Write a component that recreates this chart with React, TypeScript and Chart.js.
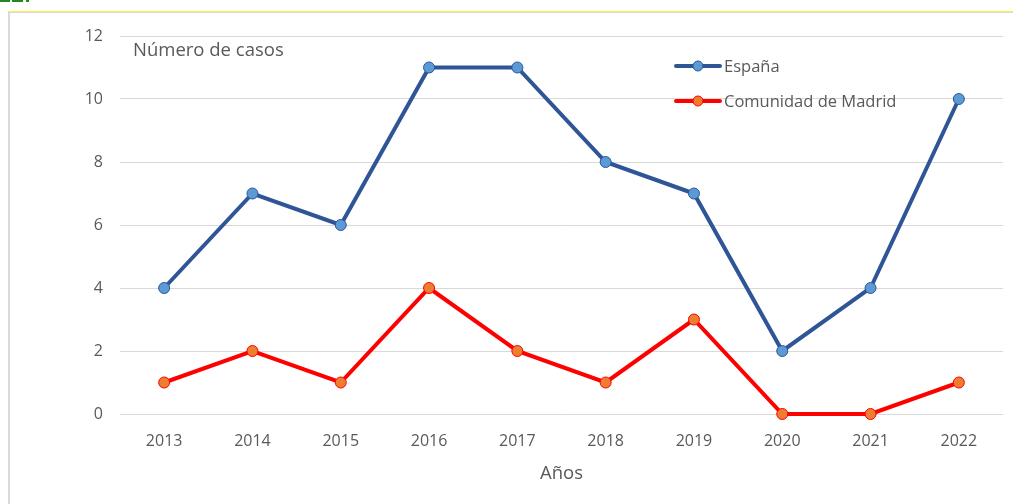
import React, { useEffect, useRef } from "react";
import { Chart, registerables } from "chart.js";

Chart.register(...registerables);

const years = ["2013", "2014", "2015", "2016", "2017", "2018", "2019", "2020", "2021", "2022"];
const espana = [4, 7, 6, 11, 11, 8, 7, 2, 4, 10];
const madrid = [1, 2, 1, 4, 2, 1, 3, 0, 0, 1];
const seriesNames = ["España", "Comunidad de Madrid"];
const yTitle = "Número de casos";
const xTitle = "Años";

const FONT = "'Open Sans', 'Noto Sans', sans-serif";
const TEXT = "#595959";

const framePlugin = {
  id: "frame",
  beforeDraw(chart: any) {
    const ctx = chart.ctx;
    ctx.save();
    ctx.fillStyle = "#ffffff";
    ctx.fillRect(0, 0, chart.width, chart.height);
    ctx.fillStyle = "#1e8a1e";
    ctx.fillRect(0, 0, 10, 2);
    ctx.fillRect(12, 0, 11, 2);
    ctx.fillRect(26, 0, 3, 2);
    ctx.fillStyle = "#f5f542";
    ctx.fillRect(8, 11, chart.width - 8, 1);
    ctx.fillStyle = "#d9d9d9";
    ctx.fillRect(8, 12, chart.width - 8, 1);
    ctx.fillRect(8, 12, 2, chart.height - 12);
    ctx.restore();
  },
  afterDraw(chart: any) {
    const ctx = chart.ctx;
    const area = chart.chartArea;
    ctx.save();
    ctx.fillStyle = TEXT;
    ctx.font = `18.5px ${FONT}`;
    ctx.textBaseline = "middle";
    ctx.textAlign = "left";
    ctx.fillText(yTitle, area.left + 13, 51);
    const rows = [66, 101];
    chart.data.datasets.forEach((ds: any, i: number) => {
      const y = rows[i];
      const x0 = 676;
      const x1 = 720;
      ctx.strokeStyle = ds.borderColor;
      ctx.lineWidth = 4;
      ctx.lineCap = "round";
      ctx.beginPath();
      ctx.moveTo(x0, y);
      ctx.lineTo(x1, y);
      ctx.stroke();
      ctx.beginPath();
      ctx.arc((x0 + x1) / 2, y, 5, 0, Math.PI * 2);
      ctx.fillStyle = ds.pointBackgroundColor;
      ctx.fill();
      ctx.lineWidth = 1;
      ctx.strokeStyle = ds.pointBorderColor;
      ctx.stroke();
      ctx.fillStyle = TEXT;
      ctx.font = `16.5px ${FONT}`;
      ctx.fillText(seriesNames[i], 724, y + 1);
    });
    ctx.restore();
  },
};

export default function App() {
  const ref = useRef<HTMLCanvasElement>(null);
  useEffect(() => {
    const chart = new Chart(ref.current as HTMLCanvasElement, {
      type: "line",
      data: {
        labels: years,
        datasets: [
          {
            label: seriesNames[0],
            data: espana,
            borderColor: "#2F5597",
            borderWidth: 4,
            pointBackgroundColor: "#5B9BD5",
            pointBorderColor: "#2F5597",
            pointBorderWidth: 1,
            pointRadius: 5.5,
            tension: 0,
            clip: false,
          },
          {
            label: seriesNames[1],
            data: madrid,
            borderColor: "#FF0000",
            borderWidth: 4,
            pointBackgroundColor: "#ED7D31",
            pointBorderColor: "#FF0000",
            pointBorderWidth: 1,
            pointRadius: 5.5,
            tension: 0,
            clip: false,
          },
        ],
      },
      options: {
        animation: false,
        responsive: false,
        maintainAspectRatio: false,
        layout: { padding: { left: 0, right: 10, top: 36, bottom: 0 } },
        plugins: { legend: { display: false }, tooltip: { enabled: false } },
        scales: {
          x: {
            offset: true,
            grid: { display: false, drawTicks: false },
            border: { display: false },
            ticks: { color: TEXT, font: { family: FONT, size: 16 }, padding: 18, maxRotation: 0 },
            title: { display: true, text: xTitle, color: TEXT, font: { family: FONT, size: 18.5 }, padding: { top: 0, bottom: 19 } },
            afterFit: (s: any) => { s.height = 90; },
          },
          y: {
            min: 0,
            max: 12,
            ticks: { stepSize: 2, color: TEXT, font: { family: FONT, size: 16 }, padding: 17 },
            grid: { color: "#d9d9d9", lineWidth: 1, drawTicks: false },
            border: { display: false },
            afterFit: (s: any) => { s.width = 120; },
          },
        },
      },
      plugins: [framePlugin],
    });
    return () => chart.destroy();
  }, []);
  return (
    <div style={{ position: "absolute", left: 0, top: 0, width: 1013, height: 504 }}>
      <canvas ref={ref} width={1013} height={504} style={{ width: 1013, height: 504 }} />
    </div>
  );
}
